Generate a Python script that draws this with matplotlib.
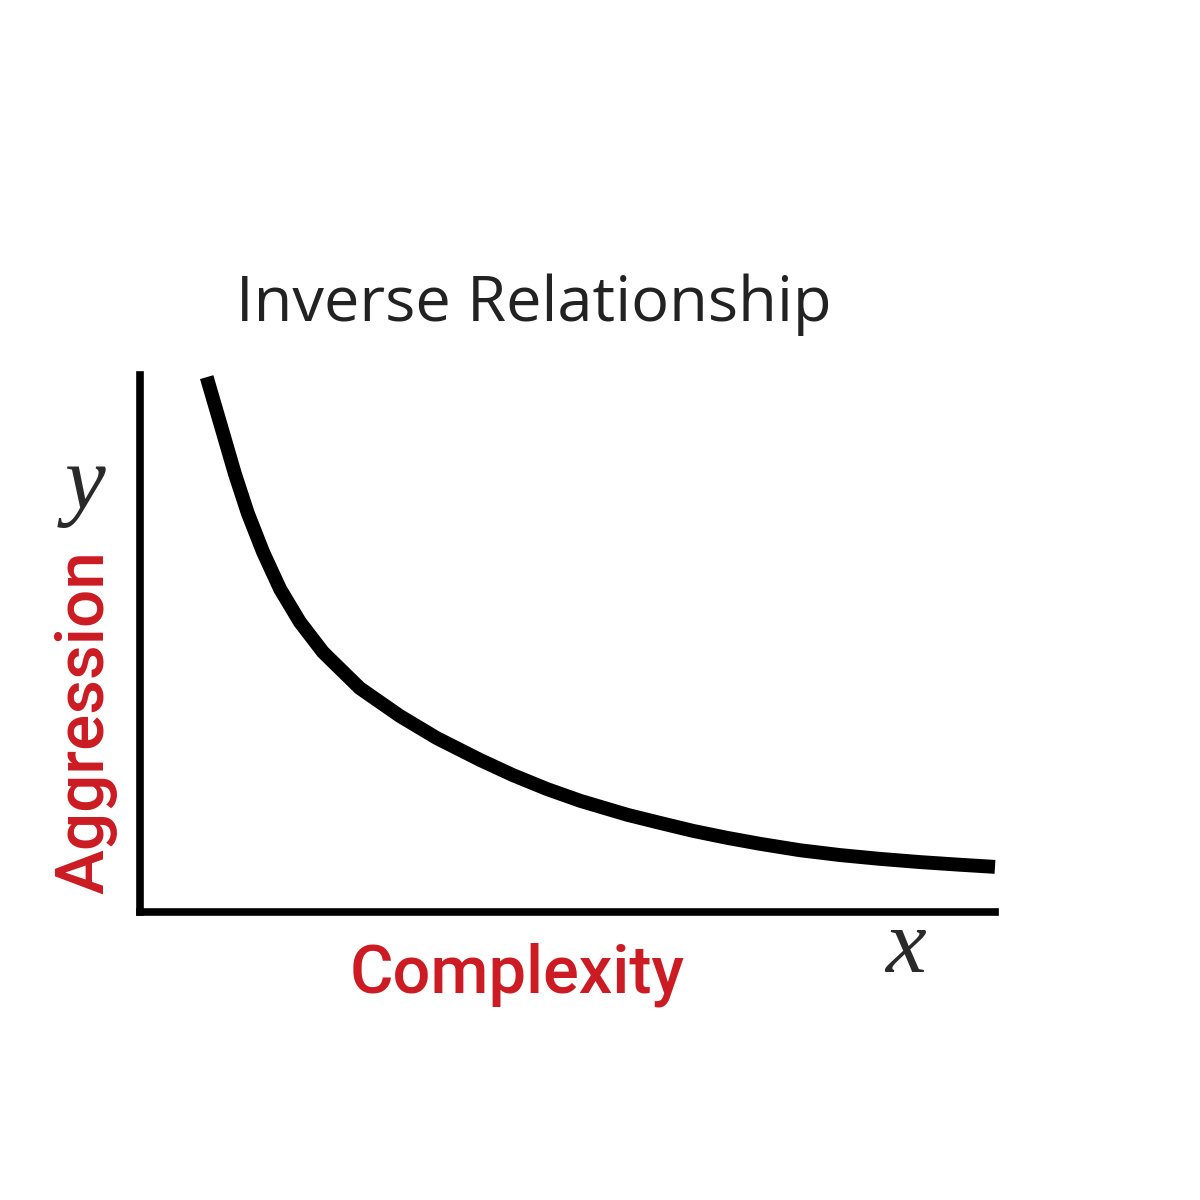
import matplotlib.pyplot as plt

# curve (arbitrary units, axes run 0..10)
complexity = [0.78, 0.96, 1.11, 1.26, 1.44, 1.64, 1.87, 2.14, 2.57, 3.04,
              3.47, 3.98, 4.36, 4.76, 5.15, 5.70, 6.08, 6.47, 6.87, 7.25,
              7.72, 8.19, 8.65, 9.12, 9.59, 10.0]
aggression = [9.96, 8.98, 8.16, 7.43, 6.70, 6.01, 5.40, 4.84, 4.17, 3.65,
              3.24, 2.83, 2.55, 2.29, 2.07, 1.81, 1.66, 1.51, 1.38, 1.27,
              1.15, 1.06, 0.99, 0.93, 0.88, 0.84]

red = '#cc1b22'

fig = plt.figure(figsize=(12, 12), dpi=100)
ax = fig.add_axes([140 / 1200, 288 / 1200, 855 / 1200, 537 / 1200])
ax.plot(complexity, aggression, color='black', lw=10, solid_capstyle='butt',
        solid_joinstyle='round', clip_on=False)
ax.set_xlim(0, 10)
ax.set_ylim(0, 10)
ax.set_xticks([])
ax.set_yticks([])
for s in ['top', 'right']:
    ax.spines[s].set_visible(False)
for s in ['left', 'bottom']:
    ax.spines[s].set_linewidth(5.5)
    ax.spines[s].set_color('black')

fig.text(534 / 1200, 1 - 305 / 1200, 'Inverse Relationship', family='Open Sans',
         fontsize=45.5, color='#222222', ha='center', va='center')
fig.text(517 / 1200, 1 - 975 / 1200, 'Complexity', family='Roboto', weight='medium',
         fontsize=48, color=red, ha='center', va='center')
fig.text(85 / 1200, 1 - 722 / 1200, 'Aggression', family='Roboto', weight='medium',
         fontsize=48.5, color=red, ha='center', va='center', rotation=90)
fig.text(85 / 1200, 1 - 487 / 1200, 'y', family='Liberation Serif', style='italic',
         fontsize=66, color='#2a2a2a', ha='center', va='center')
fig.text(905 / 1200, 1 - 950 / 1200, 'x', family='Liberation Serif', style='italic',
         fontsize=66, color='#2a2a2a', ha='center', va='center')

fig.savefig('out.png', dpi=100, facecolor='white')
